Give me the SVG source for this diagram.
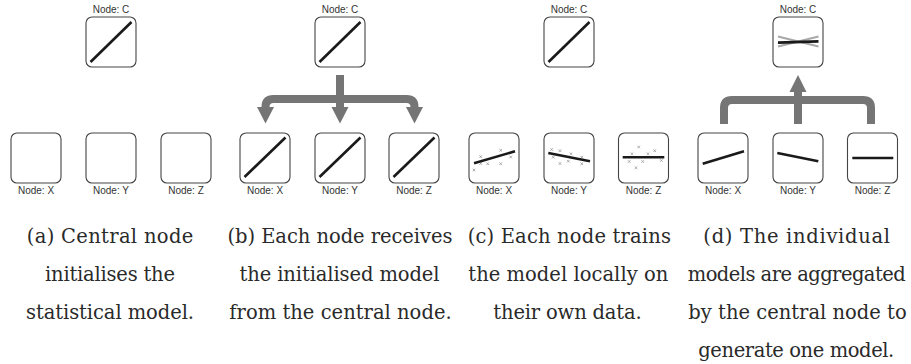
<svg xmlns="http://www.w3.org/2000/svg" width="911" height="364" viewBox="0 0 911 364">
<style>
.box{fill:#fff;stroke:#444;stroke-width:1.1}
.lbl{font-family:"Liberation Sans",Arial,sans-serif;font-size:10px;fill:#333;text-anchor:middle}
.m{stroke:#1a1a1a;stroke-width:2.6;stroke-linecap:butt;fill:none}
.mg{stroke:#a8a8a8;stroke-width:2;fill:none}
.cr{stroke:#8a8a8a;stroke-width:0.7;fill:none}
.conn{stroke:#757575;stroke-width:8;fill:none}
.head{fill:#757575}
.cap{font-family:"DejaVu Serif","Liberation Serif",serif;font-size:19.5px;fill:#2a2a2a;text-anchor:middle}
</style>
<defs>
<path id="x" class="cr" d="M-1.3,-1.3L1.3,1.3M-1.3,1.3L1.3,-1.3"/>
</defs>

<!-- Panel (a) -->
<g id="a-C"><rect class="box" x="86" y="17" width="50" height="50" rx="6"/><line class="m" x1="90.5" y1="62" x2="131.5" y2="22"/><text class="lbl" x="111" y="13.3">Node: C</text></g>
<g id="a-X"><rect class="box" x="11" y="133" width="50" height="50" rx="6"/><text class="lbl" x="36" y="194.3">Node: X</text></g>
<g id="a-Y"><rect class="box" x="86" y="133" width="50" height="50" rx="6"/><text class="lbl" x="111" y="194.3">Node: Y</text></g>
<g id="a-Z"><rect class="box" x="161" y="133" width="50" height="50" rx="6"/><text class="lbl" x="186" y="194.3">Node: Z</text></g>

<!-- Panel (b) -->
<g id="b-C"><rect class="box" x="315" y="17" width="50" height="50" rx="6"/><line class="m" x1="319.5" y1="62" x2="360.5" y2="22"/><text class="lbl" x="340" y="13.3">Node: C</text></g>
<g id="b-X"><rect class="box" x="240" y="133" width="50" height="50" rx="6"/><line class="m" x1="244.5" y1="177" x2="285.5" y2="137.5"/><text class="lbl" x="265" y="194.3">Node: X</text></g>
<g id="b-Y"><rect class="box" x="315" y="133" width="50" height="50" rx="6"/><line class="m" x1="319.5" y1="177" x2="360.5" y2="137.5"/><text class="lbl" x="340" y="194.3">Node: Y</text></g>
<g id="b-Z"><rect class="box" x="389" y="133" width="50" height="50" rx="6"/><line class="m" x1="393.5" y1="177" x2="434.5" y2="137.5"/><text class="lbl" x="414" y="194.3">Node: Z</text></g>

<!-- Panel (c) -->
<g id="c-C"><rect class="box" x="544" y="17" width="50" height="50" rx="6"/><line class="m" x1="548.5" y1="62" x2="589.5" y2="22"/><text class="lbl" x="569" y="13.3">Node: C</text></g>
<g id="c-X"><rect class="box" x="469" y="133" width="50" height="50" rx="6"/>
<use href="#x" x="474" y="170"/><use href="#x" x="480.7" y="156.7"/><use href="#x" x="480.7" y="163.5"/><use href="#x" x="487.7" y="163.7"/><use href="#x" x="500.7" y="150.3"/><use href="#x" x="500.7" y="163.7"/><use href="#x" x="510.7" y="157"/>
<line class="m" x1="474" y1="163.2" x2="515" y2="151.3"/><text class="lbl" x="494" y="194.3">Node: X</text></g>
<g id="c-Y"><rect class="box" x="544" y="133" width="50" height="50" rx="6"/>
<use href="#x" x="551.7" y="149.5"/><use href="#x" x="560" y="150.7"/><use href="#x" x="553.3" y="157.2"/><use href="#x" x="571" y="153.8"/><use href="#x" x="568.3" y="161.2"/><use href="#x" x="560" y="163.5"/><use href="#x" x="581.7" y="157.2"/><use href="#x" x="581.7" y="163.8"/>
<line class="m" x1="548.3" y1="153" x2="590" y2="161.3"/><text class="lbl" x="569" y="194.3">Node: Y</text></g>
<g id="c-Z"><rect class="box" x="618.5" y="133" width="50" height="50" rx="6"/>
<use href="#x" x="638.7" y="147"/><use href="#x" x="632" y="153.8"/><use href="#x" x="648" y="153.8"/><use href="#x" x="654.7" y="150.7"/><use href="#x" x="629.2" y="161.5"/><use href="#x" x="642.7" y="161.5"/><use href="#x" x="661.3" y="160.5"/><use href="#x" x="636" y="167.8"/>
<line class="m" x1="622.7" y1="157.3" x2="664.3" y2="157.3"/><text class="lbl" x="643.5" y="194.3">Node: Z</text></g>

<!-- Panel (d) -->
<g id="d-C"><rect class="box" x="773" y="17" width="50" height="50" rx="6"/>
<line class="mg" x1="778" y1="36.5" x2="818.5" y2="46.5"/><line class="mg" x1="778" y1="46.5" x2="818.5" y2="36.5"/>
<line class="m" x1="778" y1="42.6" x2="818.5" y2="41.4"/><text class="lbl" x="798" y="13.3">Node: C</text></g>
<g id="d-X"><rect class="box" x="698" y="133" width="50" height="50" rx="6"/><line class="m" x1="702.7" y1="163.7" x2="744" y2="151.3"/><text class="lbl" x="723" y="194.3">Node: X</text></g>
<g id="d-Y"><rect class="box" x="773" y="133" width="50" height="50" rx="6"/><line class="m" x1="777.3" y1="153" x2="818.3" y2="161.3"/><text class="lbl" x="798" y="194.3">Node: Y</text></g>
<g id="d-Z"><rect class="box" x="847.5" y="133" width="50" height="50" rx="6"/><line class="m" x1="852.3" y1="158" x2="893.3" y2="158"/><text class="lbl" x="872.5" y="194.3">Node: Z</text></g>

<!-- Connectors -->
<g id="connectors">
<path class="conn" d="M340,75V108"/>
<path class="conn" d="M265.5,108V107Q265.5,99 273.5,99H406.5Q414.5,99 414.5,107V108"/>
<polygon class="head" points="257,107 274,107 265.5,123.5"/>
<polygon class="head" points="331.5,107 348.5,107 340,123.5"/>
<polygon class="head" points="406,107 423,107 414.5,123.5"/>
<path class="conn" d="M724,124V108Q724,100 732,100H863Q871,100 871,108V124"/>
<path class="conn" d="M798,124V91"/>
<polygon class="head" points="789.5,92 806.5,92 798,75"/>
</g>

<!-- Captions -->
<g id="captions">
<text class="cap" x="110" y="243" textLength="166.5" lengthAdjust="spacing">(a) Central node</text>
<text class="cap" x="110" y="281" textLength="130" lengthAdjust="spacing">initialises the</text>
<text class="cap" x="110" y="319" textLength="168" lengthAdjust="spacing">statistical model.</text>
<text class="cap" x="340" y="243" textLength="225" lengthAdjust="spacing">(b) Each node receives</text>
<text class="cap" x="339.5" y="281" textLength="200" lengthAdjust="spacing">the initialised model</text>
<text class="cap" x="340.5" y="319" textLength="222.3" lengthAdjust="spacing">from the central node.</text>
<text class="cap" x="569.3" y="243" textLength="203.3" lengthAdjust="spacing">(c) Each node trains</text>
<text class="cap" x="568.3" y="281" textLength="200" lengthAdjust="spacing">the model locally on</text>
<text class="cap" x="567.5" y="319" textLength="148.3" lengthAdjust="spacing">their own data.</text>
<text class="cap" x="796.7" y="243" textLength="186.7" lengthAdjust="spacing">(d) The individual</text>
<text class="cap" x="796.7" y="281" textLength="218" lengthAdjust="spacing">models are aggregated</text>
<text class="cap" x="797.5" y="319" textLength="218.3" lengthAdjust="spacing">by the central node to</text>
<text class="cap" x="796.3" y="357" textLength="196" lengthAdjust="spacing">generate one model.</text>
</g>
</svg>
